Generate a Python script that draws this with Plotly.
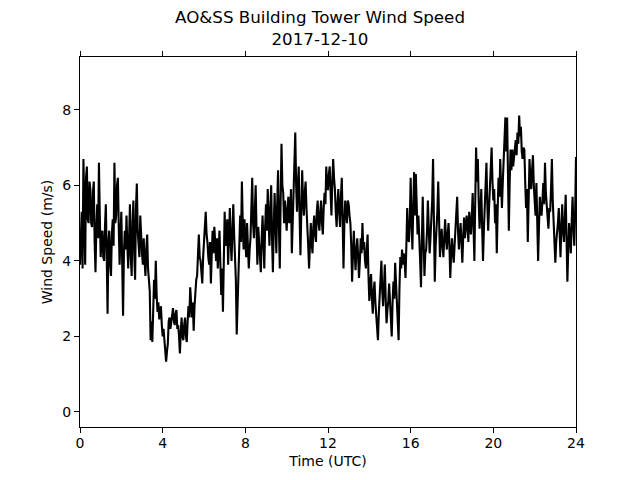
import plotly.graph_objects as go

# Wind speed (m/s) at 2.5-minute steps, hour by hour
h00 = [3.9, 5.0, 5.3, 3.8, 6.7, 5.4, 3.9, 6.2, 6.5, 5.1, 5.0, 6.1, 5.9, 5.0, 4.9, 5.8, 6.1, 4.5, 3.7, 4.9, 5.5, 4.6, 6.6, 5.2]
h01 = [4.1, 4.6, 4.8, 4.1, 4.0, 4.9, 5.5, 4.2, 2.6, 4.5, 4.8, 3.9, 3.6, 4.7, 5.1, 4.4, 6.6, 5.0, 5.2, 6.0, 6.2, 4.9, 3.9, 4.7]
h02 = [5.3, 4.0, 2.55, 4.2, 4.8, 4.3, 5.2, 4.4, 3.8, 4.6, 5.5, 4.1, 3.6, 5.0, 5.6, 4.2, 3.5, 5.4, 6.05, 4.8, 4.4, 4.1, 5.2, 4.5]
h03 = [4.2, 3.9, 4.6, 4.0, 3.6, 4.3, 4.7, 3.8, 3.5, 3.2, 1.9, 2.4, 1.85, 2.9, 3.5, 3.0, 4.0, 3.1, 2.65, 2.9, 2.45, 2.7, 2.8, 2.3]
h04 = [2.0, 2.2, 1.8, 1.5, 1.33, 1.6, 1.8, 2.4, 2.5, 2.2, 2.4, 2.7, 2.75, 2.4, 2.3, 2.6, 2.7, 2.2, 2.3, 2.0, 1.55, 2.1, 2.5, 2.0]
h05 = [1.9, 2.3, 2.5, 2.0, 1.85, 2.4, 2.8, 2.5, 3.3, 2.9, 2.5, 2.9, 2.15, 2.8, 3.2, 3.5, 3.6, 4.2, 4.7, 4.1, 4.0, 3.7, 3.4, 4.1]
h06 = [4.5, 4.9, 5.3, 4.7, 4.5, 4.1, 3.9, 4.5, 3.4, 4.2, 4.8, 4.2, 4.9, 4.5, 4.0, 4.6, 3.8, 4.3, 4.8, 3.9, 3.1, 3.8, 2.65, 4.0]
h07 = [5.3, 4.4, 4.6, 5.1, 3.9, 4.6, 5.4, 4.5, 4.0, 4.8, 5.5, 4.7, 4.2, 3.5, 2.05, 3.0, 3.6, 4.6, 5.2, 4.5, 6.1, 5.0, 4.3, 5.1]
h08 = [4.7, 4.1, 5.0, 4.5, 3.8, 4.3, 4.6, 5.4, 6.2, 5.0, 4.6, 5.3, 6.0, 4.8, 3.9, 4.9, 4.4, 4.0, 3.7, 4.6, 5.2, 4.5, 3.8, 4.9]
h09 = [5.5, 4.8, 5.9, 5.2, 4.4, 5.3, 6.0, 4.6, 3.7, 4.9, 5.8, 5.0, 4.2, 5.5, 6.4, 4.9, 3.8, 5.6, 7.1, 6.0, 5.8, 5.0, 5.6, 5.2]
h10 = [4.8, 5.4, 5.7, 5.0, 5.2, 5.9, 4.2, 5.0, 5.65, 6.2, 7.4, 6.0, 5.3, 6.0, 6.5, 5.2, 4.15, 5.3, 6.4, 5.6, 5.2, 5.8, 6.1, 5.4]
h11 = [5.0, 4.4, 3.8, 4.6, 5.0, 4.5, 4.2, 4.9, 5.2, 4.7, 4.5, 5.3, 5.6, 5.0, 4.8, 5.3, 5.6, 5.0, 4.7, 5.4, 5.8, 5.5, 6.5, 5.9]
h12 = [5.9, 6.3, 6.5, 5.8, 5.2, 6.1, 6.7, 6.2, 5.9, 5.3, 4.9, 5.5, 5.9, 5.3, 4.9, 5.7, 6.2, 5.1, 3.8, 5.0, 5.6, 5.3, 5.0, 5.6]
h13 = [5.5, 5.2, 5.0, 4.4, 3.45, 4.2, 4.8, 4.2, 3.75, 4.3, 4.6, 4.1, 3.55, 4.0, 4.6, 4.2, 5.0, 4.3, 4.5, 4.0, 3.8, 4.3, 4.7, 3.6]
h14 = [2.94, 3.4, 3.65, 3.0, 2.6, 3.2, 3.45, 2.9, 2.45, 2.2, 1.9, 2.6, 3.0, 3.5, 4.0, 3.2, 2.8, 3.3, 3.9, 3.0, 2.35, 2.7, 2.94, 3.4]
h15 = [3.0, 2.5, 2.0, 2.9, 3.45, 3.0, 3.95, 3.4, 2.94, 2.4, 1.9, 3.3, 4.1, 3.8, 4.3, 3.9, 4.2, 4.0, 3.55, 4.4, 5.4, 4.6, 4.5, 5.1]
h16 = [6.2, 5.0, 4.3, 5.4, 6.35, 5.2, 6.3, 5.5, 4.7, 5.2, 4.3, 4.0, 3.3, 4.5, 5.7, 4.6, 3.6, 4.2, 4.3, 4.8, 5.6, 4.9, 4.2, 4.6]
h17 = [5.0, 5.6, 6.7, 4.8, 3.45, 4.4, 4.8, 5.3, 6.1, 4.9, 4.1, 4.5, 4.85, 4.4, 4.1, 4.6, 5.1, 4.6, 4.3, 4.7, 5.0, 4.4, 3.55, 4.2]
h18 = [4.6, 4.2, 3.95, 4.4, 4.8, 5.2, 5.7, 4.8, 4.3, 4.7, 5.0, 4.5, 3.95, 4.6, 5.15, 4.6, 4.9, 5.2, 4.9, 4.5, 5.3, 5.0, 4.7, 5.2]
h19 = [5.8, 4.9, 4.0, 5.6, 7.0, 6.1, 6.7, 5.6, 4.85, 5.3, 5.9, 4.9, 4.0, 4.8, 5.5, 6.0, 6.6, 5.5, 4.8, 5.4, 6.05, 6.3, 7.0, 6.1]
h20 = [5.6, 5.9, 5.0, 5.5, 4.2, 5.3, 6.2, 5.7, 6.7, 6.0, 5.4, 6.1, 6.7, 7.2, 7.8, 6.9, 7.8, 6.3, 4.8, 6.1, 6.95, 6.4, 6.95, 6.5]
h21 = [6.7, 6.9, 7.2, 6.8, 7.4, 7.1, 7.85, 7.3, 7.55, 6.9, 6.7, 7.0, 6.95, 6.1, 5.4, 5.9, 4.5, 5.6, 6.7, 6.2, 5.9, 6.4, 6.8, 6.0]
h22 = [5.5, 5.2, 6.06, 5.0, 4.0, 4.9, 5.7, 5.3, 5.2, 5.6, 6.06, 5.5, 6.6, 5.8, 5.4, 5.0, 4.85, 5.4, 5.3, 5.9, 6.7, 5.6, 5.1, 4.6]
h23 = [3.95, 4.5, 4.7, 5.0, 5.4, 4.6, 4.1, 4.9, 5.5, 4.8, 4.5, 5.1, 5.75, 4.6, 3.45, 4.3, 5.0, 4.6, 4.2, 5.0, 5.7, 4.9, 4.4, 5.3]
h24 = [6.75]

speed = (h00 + h01 + h02 + h03 + h04 + h05 + h06 + h07 + h08 + h09 + h10 + h11
         + h12 + h13 + h14 + h15 + h16 + h17 + h18 + h19 + h20 + h21 + h22 + h23 + h24)
hours = [i * 2.5 / 60 for i in range(len(speed))]

x_ticks = [0, 4, 8, 12, 16, 20, 24]
y_ticks = [0, 2, 4, 6, 8]

font = "DejaVu Sans"

fig = go.Figure()
fig.add_trace(go.Scatter(x=hours, y=speed, mode="lines",
                         line=dict(color="black", width=2.1), showlegend=False))

# the page body adds an 8px offset, so the figure is 632x472
fig.update_layout(
    width=632, height=472,
    margin=dict(l=72, r=64, t=49, b=53),
    paper_bgcolor="white", plot_bgcolor="white",
    font=dict(family=font, size=14, color="black"),
    title=dict(text="AO&SS Building Tower Wind Speed<br>2017-12-10",
               x=(320 - 8) / 632, xanchor="center", y=1 - 15 / 472, yanchor="top",
               font=dict(family=font, size=16.7, color="black")),
)
fig.update_xaxes(range=[0, 24], tickvals=x_ticks, ticktext=[str(v) for v in x_ticks],
                 showgrid=False, zeroline=False, showline=True, linecolor="black",
                 linewidth=1.1, mirror="ticks", ticks="outside", ticklen=5,
                 tickwidth=1.1, tickcolor="black", ticklabelstandoff=-2,
                 title=dict(text="Time (UTC)", standoff=6, font=dict(size=14)))
fig.update_yaxes(range=[-0.4, 9.4], tickvals=y_ticks, ticktext=[str(v) for v in y_ticks],
                 showgrid=False, zeroline=False, showline=True, linecolor="black",
                 linewidth=1.1, mirror=True, ticks="outside", ticklen=5,
                 tickwidth=1.1, tickcolor="black",
                 title=dict(text="Wind Speed (m/s)", standoff=6, font=dict(size=14)))

fig.write_html("out.html")
